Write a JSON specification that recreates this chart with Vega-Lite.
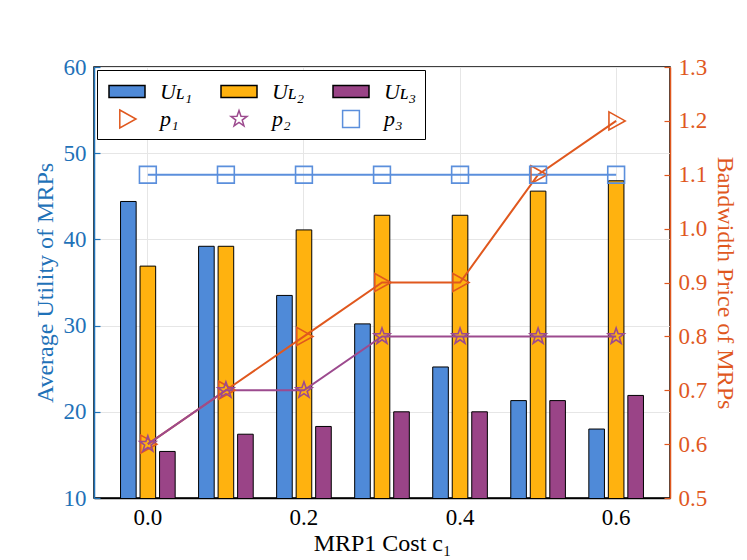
{
  "$schema": "https://vega.github.io/schema/vega-lite/v6.json",
  "width": 576,
  "height": 431,
  "autosize": "none",
  "padding": {"left": 94, "top": 67, "right": 77, "bottom": 62},
  "background": "white",
  "datasets": {
    "utility": [
      {"c": "0.0", "series": "UL1", "value": 44.4},
      {"c": "0.0", "series": "UL2", "value": 36.9},
      {"c": "0.0", "series": "UL3", "value": 15.4},
      {"c": "0.1", "series": "UL1", "value": 39.2},
      {"c": "0.1", "series": "UL2", "value": 39.2},
      {"c": "0.1", "series": "UL3", "value": 17.4},
      {"c": "0.2", "series": "UL1", "value": 33.5},
      {"c": "0.2", "series": "UL2", "value": 41.1},
      {"c": "0.2", "series": "UL3", "value": 18.3},
      {"c": "0.3", "series": "UL1", "value": 30.2},
      {"c": "0.3", "series": "UL2", "value": 42.8},
      {"c": "0.3", "series": "UL3", "value": 20.0},
      {"c": "0.4", "series": "UL1", "value": 25.2},
      {"c": "0.4", "series": "UL2", "value": 42.8},
      {"c": "0.4", "series": "UL3", "value": 20.0},
      {"c": "0.5", "series": "UL1", "value": 21.3},
      {"c": "0.5", "series": "UL2", "value": 45.6},
      {"c": "0.5", "series": "UL3", "value": 21.3},
      {"c": "0.6", "series": "UL1", "value": 18.0},
      {"c": "0.6", "series": "UL2", "value": 46.8},
      {"c": "0.6", "series": "UL3", "value": 21.9}
    ],
    "price": [
      {"c": "0.0", "series": "p1", "price": 0.6},
      {"c": "0.1", "series": "p1", "price": 0.7},
      {"c": "0.2", "series": "p1", "price": 0.8},
      {"c": "0.3", "series": "p1", "price": 0.9},
      {"c": "0.4", "series": "p1", "price": 0.9},
      {"c": "0.5", "series": "p1", "price": 1.1},
      {"c": "0.6", "series": "p1", "price": 1.2},
      {"c": "0.0", "series": "p2", "price": 0.6},
      {"c": "0.1", "series": "p2", "price": 0.7},
      {"c": "0.2", "series": "p2", "price": 0.7},
      {"c": "0.3", "series": "p2", "price": 0.8},
      {"c": "0.4", "series": "p2", "price": 0.8},
      {"c": "0.5", "series": "p2", "price": 0.8},
      {"c": "0.6", "series": "p2", "price": 0.8},
      {"c": "0.0", "series": "p3", "price": 1.1},
      {"c": "0.1", "series": "p3", "price": 1.1},
      {"c": "0.2", "series": "p3", "price": 1.1},
      {"c": "0.3", "series": "p3", "price": 1.1},
      {"c": "0.4", "series": "p3", "price": 1.1},
      {"c": "0.5", "series": "p3", "price": 1.1},
      {"c": "0.6", "series": "p3", "price": 1.1}
    ]
  },
  "encoding": {
    "x": {
      "field": "c",
      "type": "ordinal",
      "sort": null,
      "scale": {"type": "band", "paddingInner": 0.3, "paddingOuter": 0.34},
      "axis": {
        "title": "MRP1 Cost c₁",
        "values": ["0.0", "0.2", "0.4", "0.6"],
        "labelAngle": 0,
        "bandPosition": 0.5,
        "ticks": false,
        "grid": true,
        "labelPadding": 8,
        "titlePadding": 2
      }
    }
  },
  "layer": [
    {
      "data": {"name": "utility"},
      "mark": {"type": "bar", "clip": true, "stroke": "black", "strokeWidth": 1},
      "encoding": {
        "xOffset": {
          "field": "series",
          "type": "nominal",
          "scale": {"domain": ["UL1", "UL2", "UL3"], "paddingInner": 0.2, "paddingOuter": 0}
        },
        "y": {
          "field": "value",
          "type": "quantitative",
          "scale": {"domain": [10, 60], "zero": false, "nice": false},
          "axis": {
            "title": "Average Utility of MRPs",
            "values": [10, 20, 30, 40, 50, 60],
            "grid": true,
            "labelColor": "#1f72b8",
            "titleColor": "#1f72b8",
            "domainColor": "#1f72b8",
            "tickColor": "#1f72b8",
            "tickSize": -6,
            "labelPadding": 14,
            "titlePadding": 6
          }
        },
        "fill": {
          "field": "series",
          "type": "nominal",
          "scale": {
            "domain": ["UL1", "UL2", "UL3", "p1", "p2", "p3"],
            "range": ["#4f8ad8", "#ffb20f", "#9a4487", "transparent", "transparent", "transparent"]
          },
          "legend": {
            "title": null,
            "orient": "top-left",
            "direction": "horizontal",
            "offset": 3,
            "padding": 8,
            "columns": 3,
            "columnPadding": 24,
            "rowPadding": 3,
            "gridAlign": "all",
            "strokeColor": "black",
            "fillColor": "white",
            "symbolSize": 576,
            "symbolOffset": 9,
            "symbolStrokeWidth": 1.5,
            "symbolOpacity": 1,
            "labelOffset": 20,
            "labelFont": "Liberation Serif",
            "labelFontSize": 22,
            "labelFontStyle": "italic",
            "labelExpr": "datum.value == 'UL1' ? 'Uʟ₁' : datum.value == 'UL2' ? 'Uʟ₂' : datum.value == 'UL3' ? 'Uʟ₃' : datum.value == 'p1' ? 'p₁' : datum.value == 'p2' ? 'p₂' : 'p₃'"
          }
        }
      }
    },
    {
      "data": {"name": "price"},
      "layer": [
        {
          "mark": {"type": "line", "strokeWidth": 2},
          "encoding": {
            "y": {
              "field": "price",
              "type": "quantitative",
              "scale": {"domain": [0.5, 1.3], "zero": false, "nice": false},
              "axis": {
                "orient": "right",
                "title": "Bandwidth Price of MRPs",
                "values": [0.5, 0.6, 0.7, 0.8, 0.9, 1.0, 1.1, 1.2, 1.3],
                "format": ".1f",
                "grid": false,
                "labelColor": "#e0581e",
                "titleColor": "#e0581e",
                "domainColor": "#e0581e",
                "tickColor": "#e0581e",
                "tickSize": -6,
                "labelPadding": 14,
                "titlePadding": 6
              }
            },
            "stroke": {
              "field": "series",
              "type": "nominal",
              "scale": {
                "domain": ["UL1", "UL2", "UL3", "p1", "p2", "p3"],
                "range": ["black", "black", "black", "#e0581e", "#9c4a8e", "#5b8fdc"]
              },
              "legend": {"title": null}
            }
          }
        },
        {
          "mark": {"type": "point", "filled": false, "strokeWidth": 1.6, "size": 576, "opacity": 1},
          "encoding": {
            "y": {"field": "price", "type": "quantitative"},
            "stroke": {
              "field": "series",
              "type": "nominal",
              "scale": {
                "domain": ["UL1", "UL2", "UL3", "p1", "p2", "p3"],
                "range": ["black", "black", "black", "#e0581e", "#9c4a8e", "#5b8fdc"]
              },
              "legend": {"title": null}
            },
            "shape": {
              "field": "series",
              "type": "nominal",
              "scale": {
                "domain": ["UL1", "UL2", "UL3", "p1", "p2", "p3"],
                "range": [
                  "M-1.5,-0.5H1.5V0.5H-1.5Z",
                  "M-1.5,-0.5H1.5V0.5H-1.5Z",
                  "M-1.5,-0.5H1.5V0.5H-1.5Z",
                  "M-0.6,-0.75L0.75,0L-0.6,0.75Z",
                  "M0,-0.7L0.165,-0.227L0.666,-0.216L0.266,0.087L0.412,0.566L0,0.28L-0.412,0.566L-0.266,0.087L-0.666,-0.216L-0.165,-0.227Z",
                  "M-0.7,-0.7H0.7V0.7H-0.7Z"
                ]
              },
              "legend": {"title": null}
            }
          }
        }
      ]
    }
  ],
  "resolve": {"scale": {"y": "independent"}},
  "config": {
    "font": "Liberation Serif",
    "view": {"stroke": "black", "strokeWidth": 1.5},
    "axis": {
      "labelFont": "Liberation Serif",
      "titleFont": "Liberation Serif",
      "labelFontSize": 23,
      "titleFontSize": 24,
      "titleFontWeight": "normal",
      "labelColor": "black",
      "titleColor": "black",
      "domainColor": "black",
      "domainWidth": 1.5,
      "tickWidth": 1.2,
      "gridColor": "#e6e6e6",
      "gridWidth": 1
    }
  }
}
